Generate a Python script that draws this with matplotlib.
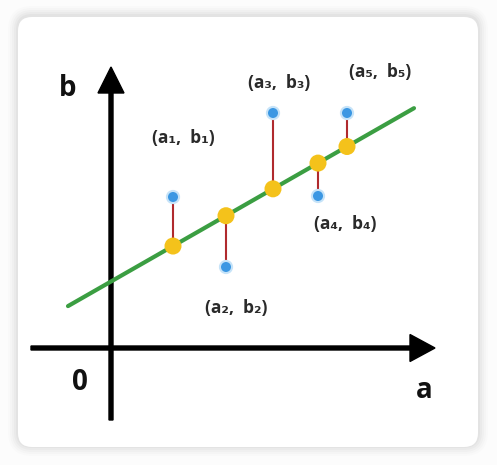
import matplotlib
matplotlib.use("Agg")
import matplotlib.pyplot as plt
from matplotlib.patches import FancyBboxPatch
import numpy as np

# data: observed points (a_i, b_i) and the fitted line b = k*a + c
a_vals = [1.24, 2.30, 3.24, 4.14, 4.72]
b_vals = [3.02, 1.62, 4.70, 3.04, 4.70]
slope = 0.572
intercept = 1.33
line_a_range = [-0.86, 6.06]

point_labels = ["(a\u2081,  b\u2081)", "(a\u2082,  b\u2082)", "(a\u2083,  b\u2083)",
                "(a\u2084,  b\u2084)", "(a\u2085,  b\u2085)"]
label_pos = [(1.44, 4.20), (2.50, 0.80), (3.36, 5.30), (4.68, 2.48), (5.38, 5.52)]

plt.rcParams['font.family'] = ['Open Sans', 'DejaVu Sans']

fig = plt.figure(figsize=(4.97, 4.65), dpi=100)
fig.patch.set_facecolor('#fcfcfc')

# card with soft shadow
for i, alpha in enumerate([0.012, 0.015, 0.018, 0.022, 0.026]):
    pad = (5 - i) * 2.0
    shadow = FancyBboxPatch((18 - pad, 17 - pad + 2), 460 + 2 * pad, 430 + 2 * pad,
                            boxstyle="round,pad=0,rounding_size=%f" % (14 + pad),
                            transform=None, facecolor='black', edgecolor='none',
                            alpha=alpha, zorder=-3)
    fig.patches.append(shadow)
card = FancyBboxPatch((18, 18), 460, 430, boxstyle="round,pad=0,rounding_size=14",
                      transform=None, facecolor='white', edgecolor='none', zorder=-2)
fig.patches.append(card)

ax = fig.add_axes([0, 0, 1, 1])
ax.set_zorder(5)
ax.set_xlim(-2.22, 7.72)
ax.set_ylim(-2.34, 6.96)
ax.set_aspect('equal')
ax.axis('off')
ax.patch.set_alpha(0)

# coordinate axes with arrow heads
ax.arrow(-1.6, 0, 8.08, 0, width=0.08, head_width=0.54, head_length=0.5,
         length_includes_head=True, color='black', zorder=2)
ax.arrow(0, -1.44, 0, 7.06, width=0.08, head_width=0.52, head_length=0.52,
         length_includes_head=True, color='black', zorder=2)

ax.text(-0.86, 5.2, "b", fontsize=20, fontweight='bold', ha='center', va='center', color='#111111')
ax.text(-0.62, -0.68, "0", fontsize=20, fontweight='bold', ha='center', va='center', color='#111111')
ax.text(6.26, -0.84, "a", fontsize=20, fontweight='bold', ha='center', va='center', color='#111111')

# fitted line
la = np.array(line_a_range)
ax.plot(la, slope * la + intercept, color='#3b9e42', lw=3.0, solid_capstyle='round', zorder=3)

# residuals
a = np.array(a_vals)
b = np.array(b_vals)
fit = slope * a + intercept
ax.vlines(a, b, fit, color='#b02a2e', lw=1.5, zorder=4)

ax.scatter(a, b, s=105, color='#c6e3f8', zorder=5, edgecolors='none')
ax.scatter(a, b, s=52, color='#3b97e3', zorder=6, edgecolors='none')
ax.scatter(a, fit, s=150, color='#f4c21b', zorder=6, edgecolors='none')

for txt, (x, y) in zip(point_labels, label_pos):
    ax.text(x, y, txt, fontsize=12.5, fontweight='bold', ha='center', va='center',
            color='#2a2a2a')

fig.savefig("out.png", dpi=100, facecolor=fig.get_facecolor())
